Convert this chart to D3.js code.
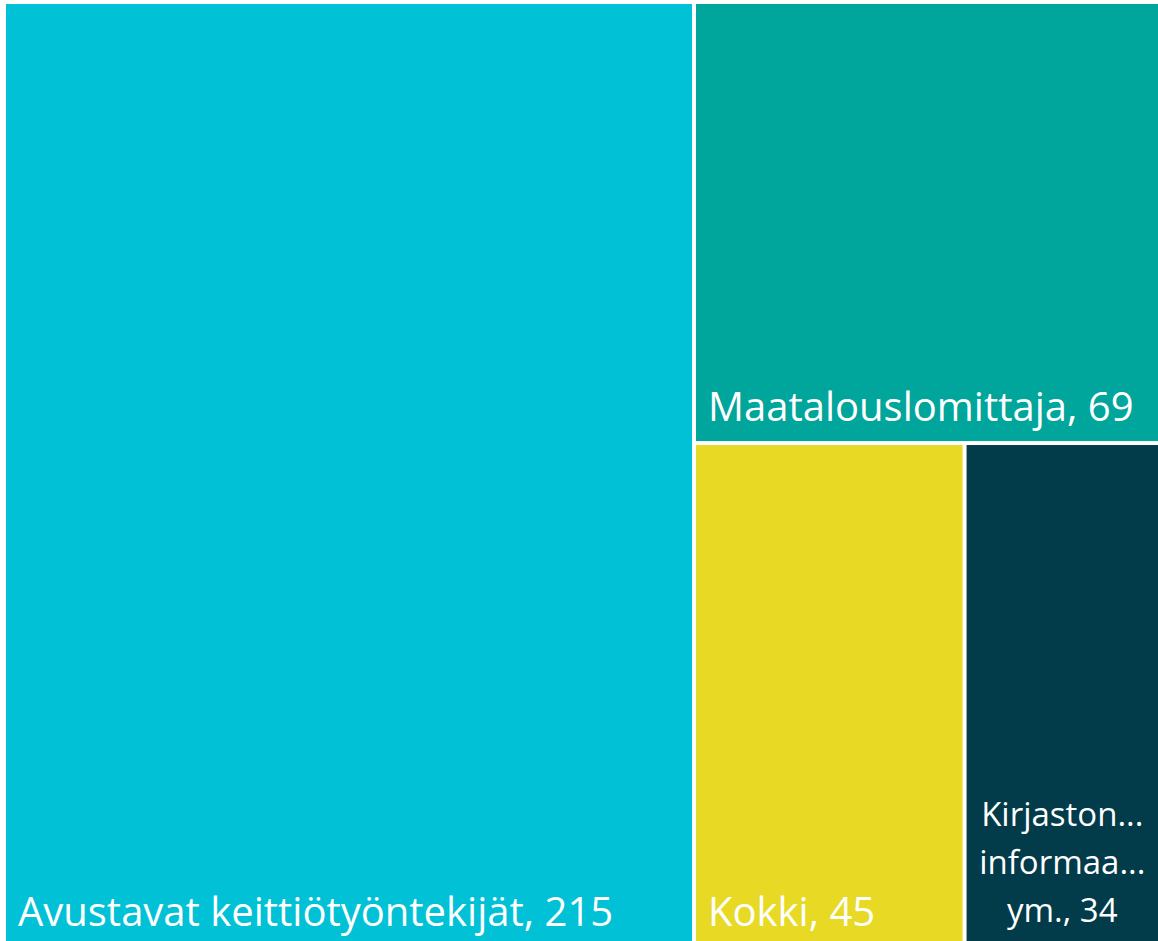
<!DOCTYPE html>
<html><head><meta charset="utf-8">
<script src="https://cdn.jsdelivr.net/npm/d3@7"></script>
<style>html,body{margin:0;padding:0;background:#fff;overflow:hidden}</style></head>
<body><svg id="c" width="1158" height="941"></svg>
<script>
// ---- data ----
const categories = ["Avustavat keittiötyöntekijät", "Maatalouslomittaja", "Kokki", "Kirjastonhoitajat, informaatikot ym."];
const values = [215, 69, 45, 34];
const colors = ["#01C1D6", "#00A59B", "#E8DA24", "#023B4A"];

// ---- layout ----
const W = 1158, H = 941;
const box = {x: 6, y: 4, w: 1161, h: 942};
const fontFamily = "'Segoe UI', 'Open Sans', sans-serif";
const bigFont = 40, smallFont = 33;

const leaves = categories.map((c, i) => ({name: c, value: values[i], color: colors[i]}));
const tree = {children: [leaves[0], {children: [leaves[1], {children: [leaves[2], leaves[3]]}]}]};

const root = d3.hierarchy(tree).sum(d => d.value || 0);
d3.treemap().tile(d3.treemapSliceDice).size([box.w, box.h]).paddingInner(4)(root);

const svg = d3.select("#c");
const g = svg.append("g").attr("transform", `translate(${box.x},${box.y})`);

const nodes = g.selectAll("g.leaf").data(root.leaves()).join("g").attr("class", "leaf");
nodes.append("rect")
  .attr("x", d => d.x0).attr("y", d => d.y0)
  .attr("width", d => d.x1 - d.x0).attr("height", d => d.y1 - d.y0)
  .attr("fill", d => d.data.color);

const visW = W - box.x, visH = H - box.y;
const pad = 12;

nodes.each(function(d) {
  const sel = d3.select(this);
  const label = `${d.data.name}, ${d.data.value}`;
  const w = Math.min(d.x1, visW) - d.x0;
  const t = sel.append("text").attr("fill", "#fff").attr("font-family", fontFamily)
    .attr("font-size", bigFont).text(label);
  if (t.node().getComputedTextLength() <= w - 2 * pad) {
    t.attr("x", d.x0 + pad).attr("y", d.y1 - 20);
    return;
  }
  t.remove();
  // wrap into words, truncate each with ellipsis
  const maxW = w - 2 * pad;
  const words = label.split(" ");
  const tmp = sel.append("text").attr("font-family", fontFamily).attr("font-size", smallFont);
  const measure = s => { tmp.text(s); return tmp.node().getComputedTextLength(); };
  const lines = [];
  let cur = "";
  words.forEach(wd => {
    const cand = cur ? cur + " " + wd : wd;
    if (measure(cand) <= maxW) { cur = cand; return; }
    if (cur) lines.push(cur);
    let s = wd;
    if (measure(s) > maxW) {
      while (s.length > 1 && measure(s + "...") > maxW) s = s.slice(0, -1);
      s = s.replace(/[,.]$/, "") + "...";
    }
    cur = s;
  });
  if (cur) lines.push(cur);
  tmp.remove();
  const cx = d.x0 + w / 2;
  const lh = 48;
  const tt = sel.append("text").attr("fill", "#fff").attr("font-family", fontFamily)
    .attr("font-size", smallFont).attr("text-anchor", "middle");
  lines.forEach((ln, i) => {
    tt.append("tspan").attr("x", cx).attr("y", d.y1 - 24 - (lines.length - 1 - i) * lh).text(ln);
  });
});
</script>
</body></html>
